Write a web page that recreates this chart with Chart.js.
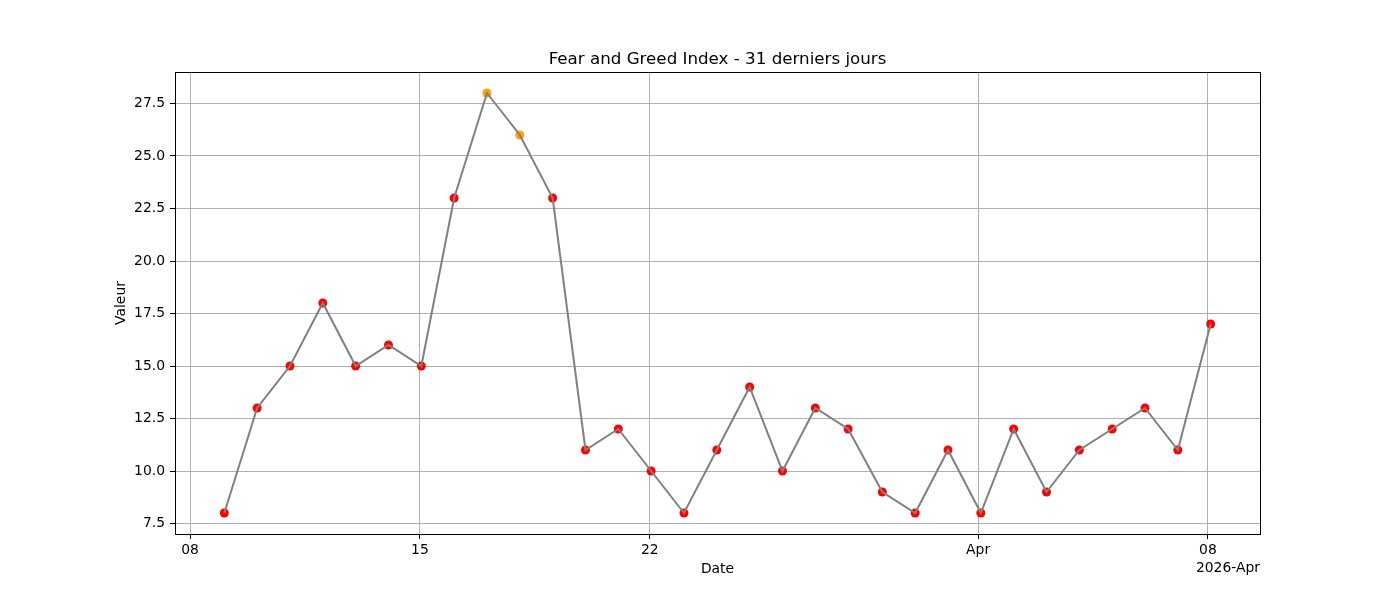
<!DOCTYPE html>
<html>
<head>
<meta charset="utf-8">
<script src="https://cdn.jsdelivr.net/npm/chart.js@4.4.1/dist/chart.umd.min.js"></script>
<style>
    body { margin: 0; background: #fff; }
    canvas { display: block; }
</style>
</head>
<body>
<canvas id="fngChart" width="1400" height="600"></canvas>
<script>
// Données du graphique (heure locale, passage à l'heure d'été le 29 mars)
const dates = [
    '2026-03-09 01:00', '2026-03-10 01:00', '2026-03-11 01:00', '2026-03-12 01:00', '2026-03-13 01:00',
    '2026-03-14 01:00', '2026-03-15 01:00', '2026-03-16 01:00', '2026-03-17 01:00', '2026-03-18 01:00',
    '2026-03-19 01:00', '2026-03-20 01:00', '2026-03-21 01:00', '2026-03-22 01:00', '2026-03-23 01:00',
    '2026-03-24 01:00', '2026-03-25 01:00', '2026-03-26 01:00', '2026-03-27 01:00', '2026-03-28 01:00',
    '2026-03-29 02:00', '2026-03-30 02:00', '2026-03-31 02:00', '2026-04-01 02:00', '2026-04-02 02:00',
    '2026-04-03 02:00', '2026-04-04 02:00', '2026-04-05 02:00', '2026-04-06 02:00', '2026-04-07 02:00',
    '2026-04-08 02:00'
];
const values = [8, 13, 15, 18, 15, 16, 15, 23, 28, 26, 23, 11, 12, 10, 8, 11, 14, 10, 13, 12, 9, 8, 11, 8, 12, 9, 11, 12, 13, 11, 17];
const xTickDates = ['2026-03-08 00:00', '2026-03-15 00:00', '2026-03-22 00:00', '2026-04-01 00:00', '2026-04-08 00:00'];
const xTickLabels = ['08', '15', '22', 'Apr', '08'];
const yTicks = [7.5, 10.0, 12.5, 15.0, 17.5, 20.0, 22.5, 25.0, 27.5];

const FONT = 'DejaVu Sans';
const BASE = Date.UTC(2026, 2, 8);

// Conversion date -> jours (fractionnaires) depuis le 8 mars
function dayOf(d) {
    const [day, time] = d.split(' ');
    const [y, m, dd] = day.split('-').map(Number);
    const [hh, mm] = time.split(':').map(Number);
    return (Date.UTC(y, m - 1, dd, hh, mm) - BASE) / 86400000;
}

const points = dates.map((d, i) => ({ x: dayOf(d), y: values[i] }));
const tickDays = xTickDates.map(dayOf);
const pointColors = values.map(v => v >= 25 ? '#ffa500' : '#ff0000');

// Marges de 5 % comme matplotlib
const xs = points.map(p => p.x);
const xSpan = Math.max(...xs) - Math.min(...xs);
const xMin = Math.min(...xs) - 0.05 * xSpan;
const xMax = Math.max(...xs) + 0.05 * xSpan;
const ySpan = Math.max(...values) - Math.min(...values);
const yMin = Math.min(...values) - 0.05 * ySpan;
const yMax = Math.max(...values) + 0.05 * ySpan;

// Textes dessinés à la main (titre, axes, décalage)
const textPlugin = {
    id: 'textPlugin',
    afterDraw(chart) {
        const ctx = chart.ctx;
        const area = chart.chartArea;
        const cx = (area.left + area.right) / 2;
        ctx.save();
        ctx.strokeStyle = '#000';
        ctx.lineWidth = 1;
        ctx.strokeRect(Math.round(area.left) + 0.5, Math.round(area.top) + 0.5,
            Math.round(area.right - area.left), Math.round(area.bottom - area.top));

        ctx.fillStyle = '#000';
        ctx.font = `16.7px "${FONT}"`;
        ctx.textAlign = 'center';
        ctx.textBaseline = 'alphabetic';
        ctx.fillText('Fear and Greed Index - 31 derniers jours', cx, area.top - 8);

        ctx.font = `13.9px "${FONT}"`;
        ctx.textBaseline = 'middle';
        ctx.fillText('Date', cx, 569);

        ctx.textAlign = 'right';
        ctx.fillText('2026-Apr', area.right, 568);

        ctx.translate(121, (area.top + area.bottom) / 2);
        ctx.rotate(-Math.PI / 2);
        ctx.textAlign = 'center';
        ctx.fillText('Valeur', 0, 0);
        ctx.restore();
    }
};

document.addEventListener('DOMContentLoaded', () => {
    const ctx = document.getElementById('fngChart').getContext('2d');
    new Chart(ctx, {
        type: 'scatter',
        data: {
            datasets: [
                {
                    type: 'line',
                    data: points,
                    borderColor: '#808080',
                    borderWidth: 2,
                    pointRadius: 0,
                    tension: 0,
                    fill: false,
                    order: 0
                },
                {
                    type: 'scatter',
                    data: points,
                    backgroundColor: pointColors,
                    pointRadius: 4.5,
                    pointBorderWidth: 0,
                    order: 1
                }
            ]
        },
        options: {
            responsive: false,
            animation: false,
            devicePixelRatio: 1,
            layout: { padding: { left: 0, right: 140, top: 72, bottom: 0 } },
            plugins: {
                legend: { display: false },
                tooltip: { enabled: false },
                title: { display: false }
            },
            scales: {
                x: {
                    type: 'linear',
                    min: xMin,
                    max: xMax,
                    afterBuildTicks: axis => { axis.ticks = tickDays.map(v => ({ value: v })); },
                    afterFit: axis => { axis.height = 66; },
                    ticks: {
                        autoSkip: false,
                        maxRotation: 0,
                        padding: 3,
                        color: '#000',
                        font: { family: FONT, size: 13.9 },
                        callback: (v) => xTickLabels[tickDays.indexOf(v)]
                    },
                    grid: { color: '#b0b0b0', lineWidth: 1, tickColor: '#000', tickLength: 5, drawTicks: true },
                    border: { display: true, color: '#000' }
                },
                y: {
                    min: yMin,
                    max: yMax,
                    afterBuildTicks: axis => { axis.ticks = yTicks.map(v => ({ value: v })); },
                    afterFit: axis => { axis.width = 175; },
                    ticks: {
                        autoSkip: false,
                        padding: 5,
                        color: '#000',
                        font: { family: FONT, size: 13.9 },
                        callback: (v) => Number(v).toFixed(1)
                    },
                    grid: { color: '#b0b0b0', lineWidth: 1, tickColor: '#000', tickLength: 5, drawTicks: true },
                    border: { display: true, color: '#000' }
                }
            }
        },
        plugins: [textPlugin]
    });
});
</script>
</body>
</html>
